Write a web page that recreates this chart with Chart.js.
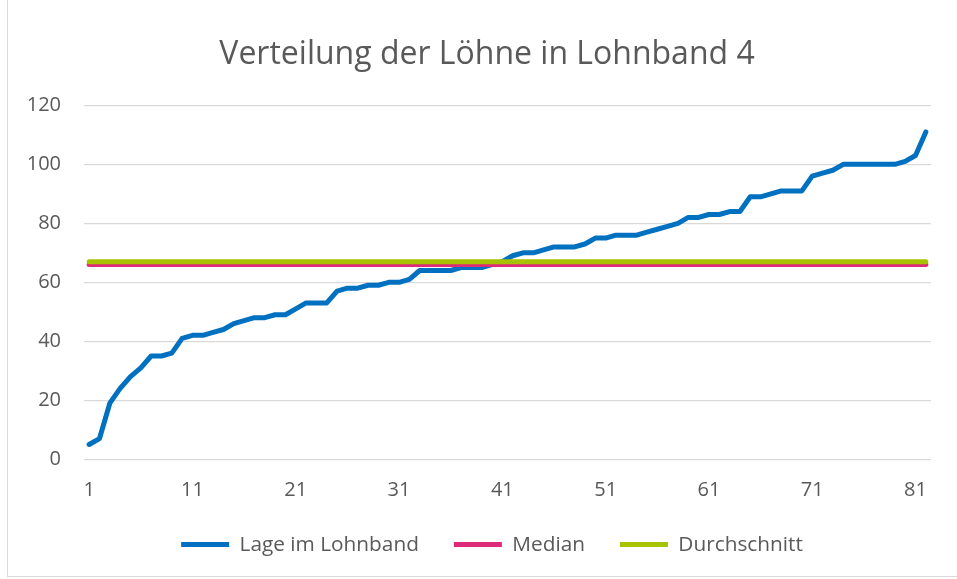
<!DOCTYPE html>
<html>
<head>
<meta charset="utf-8">
<title>Verteilung der Löhne in Lohnband 4</title>
<script src="https://cdn.jsdelivr.net/npm/chart.js@4.4.1/dist/chart.umd.min.js"></script>
<style>
	html, body { margin: 0; padding: 0; background: #ffffff; overflow: hidden; }
	#wrap { position: relative; width: 957px; height: 579px; }
	#frame { position: absolute; left: 7px; top: -2px; width: 980px; height: 578px;
		border-left: 1px solid #d9d9d9; border-bottom: 1px solid #d9d9d9; }
	#lohncanvas { position: absolute; left: 0; top: 0; }
</style>
</head>
<body>
<div id="wrap">
	<div id="frame"></div>
	<canvas id="lohncanvas" width="957" height="579"></canvas>
</div>
<script>
	// Mitarbeiter 1..82 (x-Achse)
	var categories = [
		1, 2, 3, 4, 5, 6, 7, 8, 9, 10,
		11, 12, 13, 14, 15, 16, 17, 18, 19, 20,
		21, 22, 23, 24, 25, 26, 27, 28, 29, 30,
		31, 32, 33, 34, 35, 36, 37, 38, 39, 40,
		41, 42, 43, 44, 45, 46, 47, 48, 49, 50,
		51, 52, 53, 54, 55, 56, 57, 58, 59, 60,
		61, 62, 63, 64, 65, 66, 67, 68, 69, 70,
		71, 72, 73, 74, 75, 76, 77, 78, 79, 80,
		81, 82
	];

	// Lage im Lohnband
	var lageValues = [
		5, 7, 19, 24, 28, 31, 35, 35, 36, 41,
		42, 42, 43, 44, 46, 47, 48, 48, 49, 49,
		51, 53, 53, 53, 57, 58, 58, 59, 59, 60,
		60, 61, 64, 64, 64, 64, 65, 65, 65, 66,
		67, 69, 70, 70, 71, 72, 72, 72, 73, 75,
		75, 76, 76, 76, 77, 78, 79, 80, 82, 82,
		83, 83, 84, 84, 89, 89, 90, 91, 91, 91,
		96, 97, 98, 100, 100, 100, 100, 100, 100, 101,
		103, 111
	];

	var medianValues = [
		66, 66, 66, 66, 66, 66, 66, 66, 66, 66,
		66, 66, 66, 66, 66, 66, 66, 66, 66, 66,
		66, 66, 66, 66, 66, 66, 66, 66, 66, 66,
		66, 66, 66, 66, 66, 66, 66, 66, 66, 66,
		66, 66, 66, 66, 66, 66, 66, 66, 66, 66,
		66, 66, 66, 66, 66, 66, 66, 66, 66, 66,
		66, 66, 66, 66, 66, 66, 66, 66, 66, 66,
		66, 66, 66, 66, 66, 66, 66, 66, 66, 66,
		66, 66
	];

	var durchschnittValues = [
		67, 67, 67, 67, 67, 67, 67, 67, 67, 67,
		67, 67, 67, 67, 67, 67, 67, 67, 67, 67,
		67, 67, 67, 67, 67, 67, 67, 67, 67, 67,
		67, 67, 67, 67, 67, 67, 67, 67, 67, 67,
		67, 67, 67, 67, 67, 67, 67, 67, 67, 67,
		67, 67, 67, 67, 67, 67, 67, 67, 67, 67,
		67, 67, 67, 67, 67, 67, 67, 67, 67, 67,
		67, 67, 67, 67, 67, 67, 67, 67, 67, 67,
		67, 67
	];

	// nur jede zehnte Kategorie wird beschriftet
	var tickLabels = ['1', '11', '21', '31', '41', '51', '61', '71', '81'];

	var textColor = '#595959',
		gridColor = '#d9d9d9',
		fontFamily = '"Open Sans", "Noto Sans", sans-serif';

	// Titel und Legende sitzen im Original etwas rechts der Mitte
	var nudgeBoxes = {
		id: 'nudgeBoxes',
		afterLayout: function (chart) {
			chart.titleBlock.left += 21;
			chart.legend.left += 31;
		}
	};

	var ctx = document.getElementById('lohncanvas');

	var lohnChart = new Chart(ctx, {
		type: 'line',
		data: {
			labels: categories,
			datasets: [{
				label: 'Lage im Lohnband',
				data: lageValues,
				borderColor: '#0070c0',
				backgroundColor: '#0070c0',
				borderWidth: 5,
				borderCapStyle: 'round',
				borderJoinStyle: 'round',
				pointRadius: 0,
				order: 3
			}, {
				label: 'Median',
				data: medianValues,
				borderColor: '#de2a78',
				backgroundColor: '#de2a78',
				borderWidth: 5,
				borderCapStyle: 'round',
				pointRadius: 0,
				order: 2
			}, {
				label: 'Durchschnitt',
				data: durchschnittValues,
				borderColor: '#a8c200',
				backgroundColor: '#a8c200',
				borderWidth: 5,
				borderCapStyle: 'round',
				pointRadius: 0,
				order: 1
			}]
		},
		plugins: [nudgeBoxes],
		options: {
			responsive: false,
			animation: false,
			devicePixelRatio: 1,
			layout: {
				padding: {left: 22, right: 26, top: 0, bottom: 14}
			},
			plugins: {
				title: {
					display: true,
					text: 'Verteilung der Löhne in Lohnband 4',
					color: textColor,
					font: {family: fontFamily, size: 32, weight: 'normal'},
					padding: {top: 36, bottom: 31}
				},
				legend: {
					position: 'bottom',
					maxHeight: 70,
					labels: {
						usePointStyle: true,
						pointStyle: 'line',
						pointStyleWidth: 48,
						padding: 35,
						color: textColor,
						font: {family: fontFamily, size: 20.8},
						sort: function (a, b) { return a.datasetIndex - b.datasetIndex; }
					}
				},
				tooltip: {enabled: false}
			},
			scales: {
				x: {
					offset: true,
					grid: {display: false, drawTicks: false},
					border: {display: false},
					ticks: {
						autoSkip: false,
						maxRotation: 0,
						padding: 19,
						color: textColor,
						font: {family: fontFamily, size: 20},
						callback: function (value) {
							var lbl = String(this.getLabelForValue(value));
							return tickLabels.indexOf(lbl) >= 0 ? lbl : '';
						}
					},
					afterFit: function (scale) {
						scale.height = 40;
					}
				},
				y: {
					min: 0,
					max: 120,
					border: {display: false},
					grid: {color: gridColor, lineWidth: 1.3, drawTicks: false},
					ticks: {
						stepSize: 20,
						padding: 23,
						color: textColor,
						font: {family: fontFamily, size: 20}
					},
					afterFit: function (scale) {
						scale.width = 62;
					}
				}
			}
		}
	});
</script>
</body>
</html>
